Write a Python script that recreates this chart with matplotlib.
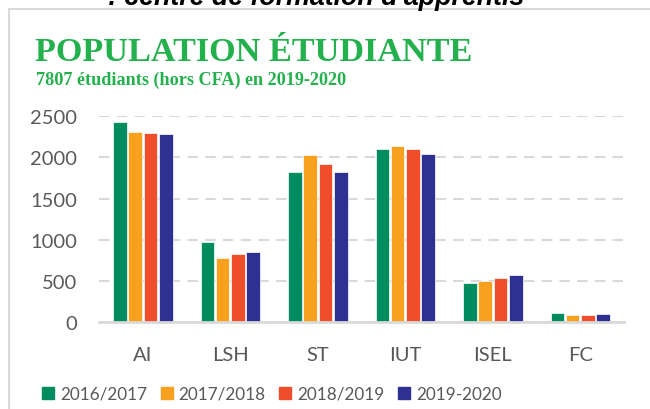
import matplotlib
matplotlib.use("Agg")
import matplotlib.pyplot as plt
from matplotlib.lines import Line2D
import numpy as np

categories = ["AI", "LSH", "ST", "IUT", "ISEL", "FC"]
series_names = ["2016/2017", "2017/2018", "2018/2019", "2019-2020"]
v_2016 = [2430, 976, 1819, 2098, 470, 109]
v_2017 = [2312, 774, 2025, 2139, 494, 89]
v_2018 = [2296, 826, 1920, 2106, 535, 81]
v_2019 = [2280, 850, 1819, 2041, 571, 97]
yticks = [0, 500, 1000, 1500, 2000, 2500]
colors = ["#008C5F", "#F9A11F", "#F04E2A", "#2E3192"]

W, H = 650, 410
fig = plt.figure(figsize=(6.5, 4.1), dpi=100)
fig.patch.set_facecolor("white")

ax = fig.add_axes([99 / W, 1 - 323 / H, (624 - 99) / W, (323 - 117.3) / H])
x = np.arange(len(categories))
slot = 0.175
bw = 0.155
for i, (vals, c) in enumerate(zip([v_2016, v_2017, v_2018, v_2019], colors)):
    ax.bar(x + (i - 1.5) * slot, vals, width=bw, color=c, edgecolor="white",
           linewidth=0.5, zorder=3)

ax.set_xlim(-0.5, len(categories) - 0.5)
ax.set_ylim(0, 2500)
ax.set_yticks(yticks)
ax.set_xticks(x)
ax.set_xticklabels(categories)
for s in ["top", "right", "left"]:
    ax.spines[s].set_visible(False)
ax.spines["bottom"].set_color("#D9D9D9")
ax.spines["bottom"].set_linewidth(2)
ax.spines["bottom"].set_zorder(4)
ax.yaxis.grid(True, color="#D9D9D9", linestyle=(0, (5, 3.5)), linewidth=1.5, zorder=0)
ax.tick_params(axis="both", length=0, labelsize=14.5, labelcolor="#595959")
ax.tick_params(axis="y", pad=16)
ax.tick_params(axis="x", pad=17)
for lab in ax.get_xticklabels() + ax.get_yticklabels():
    lab.set_family(["Lato", "DejaVu Sans"])

# frame lines
fig.add_artist(Line2D([8.5 / W, 8.5 / W], [0, 1 - 9.5 / H], transform=fig.transFigure,
                      color="#D9D9D9", linewidth=1.5))
fig.add_artist(Line2D([8.5 / W, 1], [1 - 9.5 / H, 1 - 9.5 / H], transform=fig.transFigure,
                      color="#D9D9D9", linewidth=1.5))

# cut-off text at top
fig.text(56 / W, 1 + 4 / H, "•", fontsize=18, fontweight="bold", color="black",
         va="center", ha="left", family=["Liberation Sans", "DejaVu Sans"])
fig.text(108 / W, 1 - 5 / H, ": centre de formation d'apprentis", fontsize=19.3,
         fontweight="bold", fontstyle="italic", color="black", va="baseline", ha="left",
         family=["Liberation Sans", "DejaVu Sans"])

title_green = "#22B14C"
fig.text(35 / W, 1 - 61 / H, "POPULATION ÉTUDIANTE", fontsize=24.7, fontweight="bold",
         color=title_green, va="baseline", ha="left",
         family=["Liberation Serif", "DejaVu Serif"])
fig.text(36 / W, 1 - 85 / H, "7807 étudiants (hors CFA) en 2019-2020", fontsize=13.1,
         fontweight="bold", color=title_green, va="baseline", ha="left",
         family=["Liberation Serif", "DejaVu Serif"])

handles = [plt.Rectangle((0, 0), 1, 1, color=c) for c in colors]
leg = fig.legend(handles, series_names, loc="center", bbox_to_anchor=(272 / W, 1 - 395 / H),
                 ncol=4, frameon=False, handlelength=0.7, handleheight=0.7,
                 handletextpad=0.35, columnspacing=0.8, borderpad=0,
                 prop={"family": ["Lato", "DejaVu Sans"], "size": 12.3})
for t in leg.get_texts():
    t.set_color("#595959")

fig.savefig("out.png", dpi=100, facecolor="white")
